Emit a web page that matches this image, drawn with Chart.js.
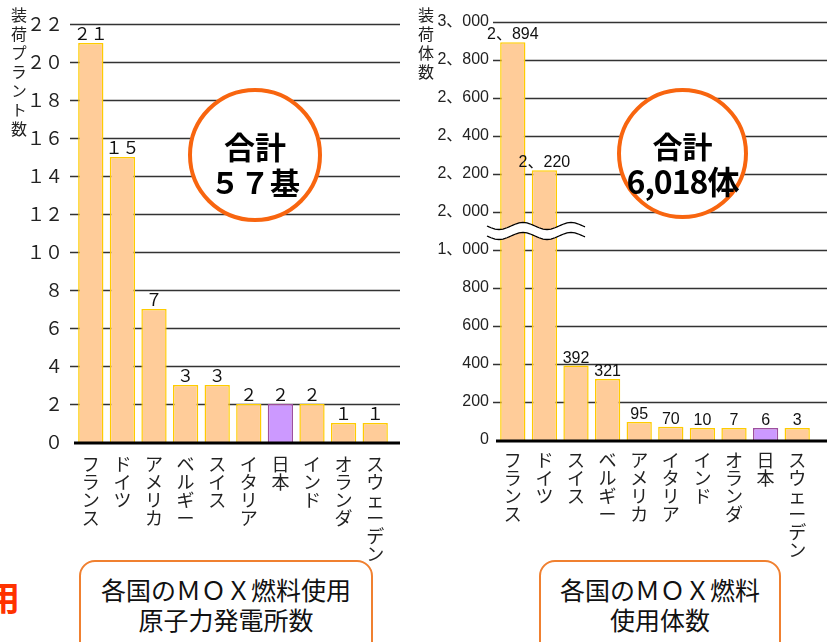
<!DOCTYPE html>
<html><head><meta charset="utf-8">
<script src="https://cdn.jsdelivr.net/npm/chart.js@4"></script>
<style>
body{margin:0;width:827px;height:642px;overflow:hidden;background:#fff;position:relative;font-family:"Noto Sans CJK JP",sans-serif;color:#111;}
canvas{position:absolute;top:0;}
#c1{left:0;}
#c2{left:405px;}
.ytitle{position:absolute;writing-mode:vertical-rl;text-orientation:upright;font-size:16px;letter-spacing:3px;color:#222;line-height:16px;}
.circle{position:absolute;box-sizing:border-box;border:4px solid #F8650F;border-radius:50%;background:#fff;}
.ctext{position:absolute;left:0;width:100%;text-align:center;font-weight:bold;color:#000;line-height:1;}
.box{position:absolute;box-sizing:border-box;border:2px solid #F08030;border-radius:16px;background:#fff;text-align:center;font-size:25px;line-height:30px;color:#111;}
#red{position:absolute;left:-14px;top:580px;font-size:34px;font-weight:bold;color:#FF3300;line-height:1;}
</style></head><body>
<canvas id="c1" width="405" height="570" style="width:405px;height:570px"></canvas>
<canvas id="c2" width="422" height="570" style="width:422px;height:570px"></canvas>
<div class="ytitle" style="left:11px;top:7px;">装荷プラント数</div>
<div class="ytitle" style="left:418px;top:7px;">装荷体数</div>
<div class="circle" style="left:188px;top:88px;width:134px;height:134px;">
  <div class="ctext" style="top:38px;font-size:31px;">合計</div>
  <div class="ctext" style="top:74px;font-size:30px;">５７基</div>
</div>
<div class="circle" style="left:617px;top:88px;width:131px;height:131px;">
  <div class="ctext" style="top:38px;font-size:30px;">合計</div>
  <div class="ctext" style="top:72px;font-size:32px;letter-spacing:-1px;">6,018体</div>
</div>
<div class="box" style="left:79px;top:560px;width:294px;height:100px;padding-top:12px;">各国のＭＯＸ燃料使用<br>原子力発電所数</div>
<div class="box" style="left:539px;top:560px;width:242px;height:100px;padding-top:12px;">各国のＭＯＸ燃料<br>使用体数</div>
<div id="red">用</div>
<script>
// ---- data ----
const plantCountries = ["フランス","ドイツ","アメリカ","ベルギー","スイス","イタリア","日本","インド","オランダ","スウェーデン"];
const plantCounts = [21,15,7,3,3,2,2,2,1,1];
const plantTicks = [0,2,4,6,8,10,12,14,16,18,20,22];

const assemblyCountries = ["フランス","ドイツ","スイス","ベルギー","アメリカ","イタリア","インド","オランダ","日本","スウェーデン"];
const assemblyCounts = [2894,2220,392,321,95,70,10,7,6,3];
const assemblyTicks = [0,200,400,600,800,1000,2000,2200,2400,2600,2800,3000];

// ---- helpers ----
const fullWidth = s => String(s).replace(/[0-9]/g, c => String.fromCharCode(c.charCodeAt(0) + 0xFEE0));
const jpNum = n => n >= 1000 ? Math.floor(n/1000) + "、" + String(n % 1000).padStart(3, "0") : String(n);
// axis break: 1000..2000 removed
const BREAK_LO = 1000, BREAK_HI = 2000, GAP = BREAK_HI - BREAK_LO - 200;
const toDisp = v => v <= BREAK_LO ? v : v - GAP;
const fromDisp = d => d <= BREAK_LO ? d : d + GAP;

const PEACH = "#FFCC99", GOLD = "#FFCC00", LAV = "#CC99FF", PURP = "#9E4F9E";
const colorsFor = cats => cats.map(c => c === "日本" ? LAV : PEACH);
const bordersFor = cats => cats.map(c => c === "日本" ? PURP : GOLD);

const gridPlugin = {
  id: "customGrid",
  beforeDatasetsDraw(chart, args, opts) {
    const {ctx, chartArea: a} = chart; const y = chart.scales.y;
    ctx.save(); ctx.strokeStyle = "#333"; ctx.lineWidth = 1.3;
    y.ticks.forEach(t => {
      if (t.value === 0) return;
      const py = Math.round(y.getPixelForValue(t.value)) + 0.5;
      ctx.beginPath(); ctx.moveTo(a.left - opts.tick, py); ctx.lineTo(opts.extendTo, py); ctx.stroke();
    });
    ctx.restore();
  },
  afterDatasetsDraw(chart, args, opts) {
    const {ctx, chartArea: a} = chart; const y = chart.scales.y;
    const py = y.getPixelForValue(0);
    ctx.save(); ctx.strokeStyle = "#000"; ctx.lineWidth = 3;
    ctx.beginPath(); ctx.moveTo(a.left - 1, py + 1); ctx.lineTo(opts.extendTo, py + 1); ctx.stroke();
    // value labels
    const meta = chart.getDatasetMeta(0);
    ctx.fillStyle = "#111"; ctx.font = opts.labelFont; ctx.textAlign = "center"; ctx.textBaseline = "alphabetic";
    meta.data.forEach((el, i) => {
      ctx.fillText(opts.fmt(opts.values[i]), el.x, el.y - 3);
    });
    // axis break
    if (opts.breakAt !== undefined) {
      const yb = y.getPixelForValue(opts.breakAt);
      const x0 = a.left - 10, x1 = a.left + 88;
      const wave = (off) => { const pts = []; for (let x = x0; x <= x1; x += 2) pts.push([x, yb + off + 3.5 * Math.sin((x - x0) / 48 * 2 * Math.PI)]); return pts; };
      const top = wave(-5), bot = wave(5);
      ctx.fillStyle = "#fff"; ctx.beginPath();
      top.forEach((p, i) => i ? ctx.lineTo(p[0], p[1]) : ctx.moveTo(p[0], p[1]));
      bot.slice().reverse().forEach(p => ctx.lineTo(p[0], p[1]));
      ctx.closePath(); ctx.fill();
      ctx.strokeStyle = "#000"; ctx.lineWidth = 1.3;
      [top, bot].forEach(pts => { ctx.beginPath(); pts.forEach((p, i) => i ? ctx.lineTo(p[0], p[1]) : ctx.moveTo(p[0], p[1])); ctx.stroke(); });
    }
    ctx.restore();
  }
};

function makeChart(id, cats, data, yOpts, padRight, yWidth, xHeight, xPad, plug, minBar) {
  return new Chart(document.getElementById(id), {
    type: "bar",
    data: {
      labels: cats.map(s => Array.from(s)),
      datasets: [{ data, backgroundColor: colorsFor(cats), borderColor: bordersFor(cats), borderWidth: 1.5,
        barPercentage: 0.8, categoryPercentage: 1.0, minBarLength: minBar }]
    },
    options: {
      responsive: false, animation: false, events: [],
      layout: { padding: { top: yOpts.top, right: padRight, left: 0, bottom: 0 } },
      plugins: { legend: { display: false }, tooltip: { enabled: false }, customGrid: plug },
      scales: {
        x: { grid: { display: false }, border: { display: false },
             ticks: { color: "#222", font: { family: "Noto Sans CJK JP", size: 18, lineHeight: 1.0 }, padding: xPad, maxRotation: 0, minRotation: 0, autoSkip: false },
             afterFit: s => { s.height = xHeight; } },
        y: { min: yOpts.min, max: yOpts.max, grid: { display: false }, border: { display: false },
             afterBuildTicks: s => { s.ticks = yOpts.ticks.map(v => ({ value: v })); },
             ticks: { color: "#222", font: yOpts.font, padding: yOpts.pad, callback: yOpts.cb },
             afterFit: s => { s.width = yWidth; } }
      }
    },
    plugins: [gridPlugin]
  });
}

makeChart("c1", plantCountries, plantCounts,
  { min: 0, max: 22, ticks: plantTicks, top: 24, pad: 4,
    font: { family: "Noto Sans CJK JP", size: 18 }, cb: v => fullWidth(v) },
  14, 75, 128, 5,
  { extendTo: 400, tick: 5, labelFont: "17px 'Noto Sans CJK JP'", fmt: fullWidth, values: plantCounts }, 0);

makeChart("c2", assemblyCountries, assemblyCounts.map(toDisp),
  { min: 0, max: toDisp(3000), ticks: assemblyTicks.map(toDisp), top: 22, pad: 0,
    font: { family: "'Liberation Sans', 'Noto Sans CJK JP'", size: 16 }, cb: v => jpNum(fromDisp(v)) },
  14, 92, 130, 3,
  { extendTo: 422, tick: 4, labelFont: "16px 'Liberation Sans', 'Noto Sans CJK JP'", fmt: jpNum, values: assemblyCounts,
    breakAt: (toDisp(BREAK_LO) + toDisp(BREAK_HI)) / 2 }, 12);
</script>
</body></html>
